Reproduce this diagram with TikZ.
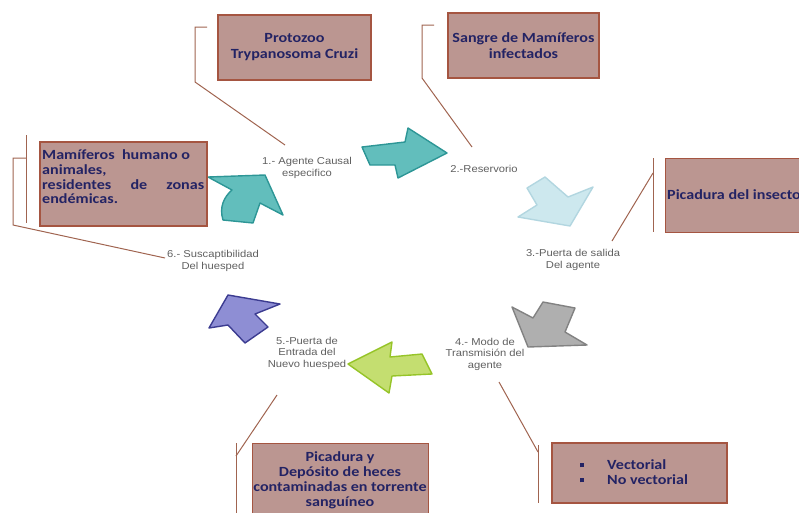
\documentclass[tikz,border=0pt]{standalone}
\usepackage{fontspec}
\setmainfont{Liberation Sans}
\newfontfamily\boxfont[FakeStretch=1.15]{Carlito}
\newfontfamily\labfont[FakeStretch=1.12]{Liberation Sans}
\definecolor{boxfill}{RGB}{187,150,145}
\definecolor{boxborder}{RGB}{165,85,65}
\definecolor{navy}{RGB}{35,35,100}
\definecolor{labgray}{RGB}{95,95,95}
\definecolor{brkcol}{RGB}{160,100,80}
\definecolor{tealfill}{RGB}{98,190,188}
\definecolor{tealline}{RGB}{45,150,150}
\definecolor{lbfill}{RGB}{205,232,238}
\definecolor{lbline}{RGB}{178,214,224}
\definecolor{gyfill}{RGB}{175,175,175}
\definecolor{gyline}{RGB}{130,130,130}
\definecolor{grfill}{RGB}{196,222,112}
\definecolor{grline}{RGB}{150,196,40}
\definecolor{pufill}{RGB}{142,142,212}
\definecolor{puline}{RGB}{60,60,145}
\begin{document}
\begin{tikzpicture}[x=1pt,y=-1pt,
  boxst/.style={draw=boxborder, line width=1.3pt, fill=boxfill, inner sep=0pt},
  boxtxt/.style={font=\boxfont\bfseries\fontsize{14}{16}\selectfont, text=navy, align=center},
  lab/.style={font=\labfont\fontsize{10}{11.5}\selectfont, text=labgray, align=center, inner sep=0pt},
  brk/.style={draw=brkcol, line width=1pt},
  arr/.style={line width=1.4pt, line join=round}]
\useasboundingbox (0,0) rectangle (799,512);
\clip (0,0) rectangle (799,512);

% ---- labels of the cycle
\node[lab] (l1) at (307,168) {1.- Agente Causal\\especifico};
\node[lab] (l2) at (484,169) {2.-Reservorio};
\node[lab] (l3) at (573,260) {3.-Puerta de salida\\Del agente};
\node[lab] (l4) at (485,354) {4.- Modo de\\Transmisi\'on del\\agente};
\node[lab] (l5) at (307,353) {5.-Puerta de\\Entrada del\\Nuevo huesped};
\node[lab] (l6) at (213,261) {6.- Suscaptibilidad\\Del huesped};

% ---- arrows of the cycle
\draw[arr, draw=tealline, fill=tealfill] (208,177) -- (265,175) -- (283,215) -- (260,203) -- (253,223) -- (223,220) .. controls (219,207) and (224,197) .. (232,190) -- cycle;
\draw[arr, draw=tealline, fill=tealfill] (362,147) -- (405,142) -- (408,128) -- (447,153) -- (398,178) -- (395,165) -- (370,165) -- cycle;
\draw[arr, draw=lbline, fill=lbfill] (545,177) -- (568,197) -- (593,187) -- (570,226) -- (518,217) -- (537,205) -- (527,188) -- cycle;
\draw[arr, draw=gyline, fill=gyfill] (512,307) -- (533,318) -- (543,302) -- (575,308) -- (565,332) -- (587,345) -- (528,347) -- cycle;
\draw[arr, draw=grline, fill=grfill] (348,364) -- (392,342) -- (390,357) -- (422,354) -- (432,374) -- (392,376) -- (389,393) -- cycle;
\draw[arr, draw=puline, fill=pufill] (228,295) -- (280,304) -- (255,314) -- (268,327) -- (245,343) -- (228,325) -- (209,328) -- cycle;

% ---- boxes
\node[boxst, minimum width=153pt, minimum height=65pt, boxtxt] (b1) at (294.5,47.5) {Protozoo\\Trypanosoma Cruzi};
\node[boxst, minimum width=151pt, minimum height=65pt, boxtxt] (b2) at (523.5,45.5) {Sangre de Mam\'iferos\\infectados};
\node[boxst, minimum width=155pt, minimum height=74pt, anchor=north west] (b3) at (665,158) {};
\node[boxtxt, anchor=west, inner sep=0pt] (t3) at (667,195) {Picadura del insecto};
\node[boxst, minimum width=175pt, minimum height=60pt] (b4) at (639.5,473) {};
\node[boxtxt, anchor=west, align=left, inner sep=0pt, font=\boxfont\bfseries\fontsize{14}{15}\selectfont] (t4) at (580,472.5)
  {\makebox[27pt][l]{\rule[2.5pt]{4pt}{4pt}}Vectorial\\\makebox[27pt][l]{\rule[2.5pt]{4pt}{4pt}}No vectorial};
\node[boxst, minimum width=176pt, minimum height=77pt, anchor=north west] (b5) at (252,443) {};
\node[boxtxt, font=\boxfont\bfseries\fontsize{14}{15}\selectfont, inner sep=0pt] (t5) at (340,480)
  {Picadura y\\Dep\'osito de heces\\contaminadas en torrente\\sangu\'ineo};
\node[boxst, minimum width=167pt, minimum height=84pt] (b6) at (123.5,184) {};
\node[boxtxt, anchor=west, align=left, inner sep=0pt, font=\boxfont\bfseries\fontsize{14}{14.7}\selectfont] (t6) at (42,177)
  {Mam\'iferos\ \ humano o\\animales,\\\makebox[162pt][s]{residentes\hfill de\hfill zonas}\\end\'emicas.};

% ---- bracket connectors
\coordinate (c1a) at (207,27); \coordinate (c1b) at (195,27); \coordinate (c1c) at (195,82); \coordinate (c1d) at (285,145);
\draw[brk] (c1a) -- (c1b) -- (c1c) -- (c1d);
\coordinate (c2a) at (434,25); \coordinate (c2b) at (422,25); \coordinate (c2c) at (422,78); \coordinate (c2d) at (472,147);
\draw[brk] (c2a) -- (c2b) -- (c2c) -- (c2d);
\coordinate (c3a) at (653,158); \coordinate (c3b) at (653,232); \coordinate (c3c) at (653,173); \coordinate (c3d) at (612,241);
\draw[brk] (c3a) -- (c3b);
\draw[brk] (c3c) -- (c3d);
\coordinate (c4a) at (538,445); \coordinate (c4b) at (538,503); \coordinate (c4c) at (538,452); \coordinate (c4d) at (499,382);
\draw[brk] (c4a) -- (c4b);
\draw[brk] (c4c) -- (c4d);
\coordinate (c5a) at (236,443); \coordinate (c5b) at (236,515); \coordinate (c5c) at (236,456); \coordinate (c5d) at (277,395);
\draw[brk] (c5a) -- (c5b);
\draw[brk] (c5c) -- (c5d);
\coordinate (c6a) at (26,135); \coordinate (c6b) at (26,223);
\coordinate (c6c) at (26,158); \coordinate (c6d) at (13,158); \coordinate (c6e) at (13,225); \coordinate (c6f) at (165,258);
\draw[brk] (c6a) -- (c6b);
\draw[brk] (c6c) -- (c6d) -- (c6e) -- (c6f);
\end{tikzpicture}
\end{document}
